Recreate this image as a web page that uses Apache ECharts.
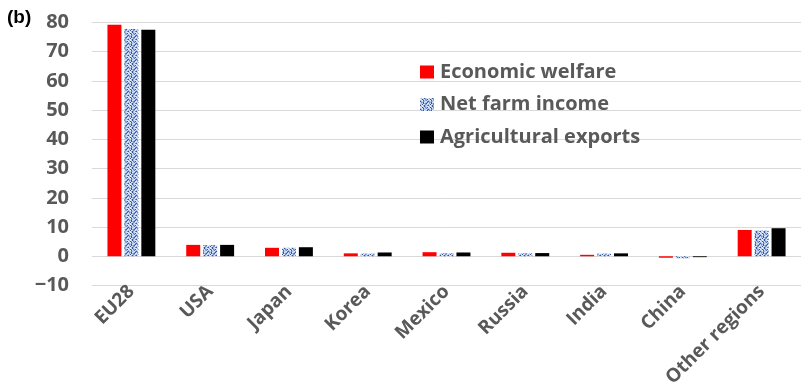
<!DOCTYPE html>
<html>
<head>
<meta charset="utf-8">
<script src="https://cdn.jsdelivr.net/npm/echarts@6/dist/echarts.min.js"></script>
<style>
  html, body { margin: 0; padding: 0; background: #fff; }
  #chart { width: 801px; height: 390px; }
</style>
</head>
<body>
<div id="chart"></div>
<script>
// Regions and percentage shares for each indicator
const regions = ['EU28', 'USA', 'Japan', 'Korea', 'Mexico', 'Russia', 'India', 'China', 'Other regions'];
const economicWelfare = [79.2, 3.9, 2.9, 1.0, 1.4, 1.2, 0.5, -0.5, 9.0];
const netFarmIncome = [77.8, 3.8, 2.9, 0.9, 1.0, 1.0, 0.9, -0.7, 8.8];
const agriculturalExports = [77.5, 3.9, 3.1, 1.3, 1.3, 1.1, 1.0, -0.3, 9.6];
const seriesNames = ['Economic welfare', 'Net farm income', 'Agricultural exports'];
const yTicks = { min: -10, max: 80, step: 10 };

// Speckled blue fill used for the net farm income bars
function speckle() {
  const rows = [
    'abeadbae',
    'eadbacbd',
    'baedabca',
    'dbacbaec',
    'acbdeabd',
    'ebadbcda',
    'badeacbe',
    'daebdbac'
  ];
  const pal = { a: '#c9d8f0', b: '#9db5e0', c: '#6a8bcb', d: '#35579a', e: '#e4ecf8' };
  const cv = document.createElement('canvas');
  cv.width = 8; cv.height = 8;
  const ctx = cv.getContext('2d');
  rows.forEach((r, y) => {
    for (let x = 0; x < r.length; x++) {
      ctx.fillStyle = pal[r[x]];
      ctx.fillRect(x, y, 1, 1);
    }
  });
  return { image: cv, repeat: 'repeat' };
}

const textGray = '#595959';
const font = '"Open Sans", "DejaVu Sans", sans-serif';
const blueFill = speckle();

const chart = echarts.init(document.getElementById('chart'), null, { renderer: 'canvas' });

function barSeries(name, data, color) {
  return {
    name: name,
    type: 'bar',
    data: data,
    barWidth: 14,
    barGap: '21%',
    itemStyle: { color: color },
    emphasis: { disabled: true }
  };
}

chart.setOption({
  animation: false,
  backgroundColor: '#fff',
  grid: { left: 92, right: 0, top: 22.5, bottom: 104.5, containLabel: false },
  legend: {
    orient: 'vertical',
    left: 415,
    top: 57,
    itemWidth: 14,
    itemHeight: 13,
    itemGap: 12.5,
    icon: 'rect',
    textStyle: {
      color: textGray,
      fontFamily: font,
      fontWeight: 'bold',
      fontSize: 20,
      lineHeight: 20,
      padding: [0, 0, 0, 1]
    },
    data: seriesNames
  },
  graphic: [{
    type: 'text',
    left: 7,
    top: 8,
    style: {
      text: '(b)',
      fill: '#000',
      font: 'bold 19px "Liberation Sans", Arial, sans-serif'
    }
  }],
  xAxis: {
    type: 'category',
    data: regions,
    axisLine: { show: false },
    axisTick: { show: false },
    axisLabel: {
      interval: 0,
      rotate: 45,
      margin: 3,
      color: textGray,
      fontFamily: font,
      fontWeight: 'bold',
      fontSize: 19
    }
  },
  yAxis: {
    type: 'value',
    min: yTicks.min,
    max: yTicks.max,
    interval: yTicks.step,
    axisLine: { show: false },
    axisTick: { show: false },
    splitLine: { lineStyle: { color: '#d9d9d9', width: 1 } },
    axisLabel: {
      margin: 23,
      color: textGray,
      fontFamily: font,
      fontWeight: 'bold',
      fontSize: 20,
      formatter: v => String(v).replace('-', '\u2212')
    }
  },
  series: [
    barSeries(seriesNames[0], economicWelfare, '#ff0000'),
    barSeries(seriesNames[1], netFarmIncome, blueFill),
    barSeries(seriesNames[2], agriculturalExports, '#000000')
  ]
});
</script>
</body>
</html>
